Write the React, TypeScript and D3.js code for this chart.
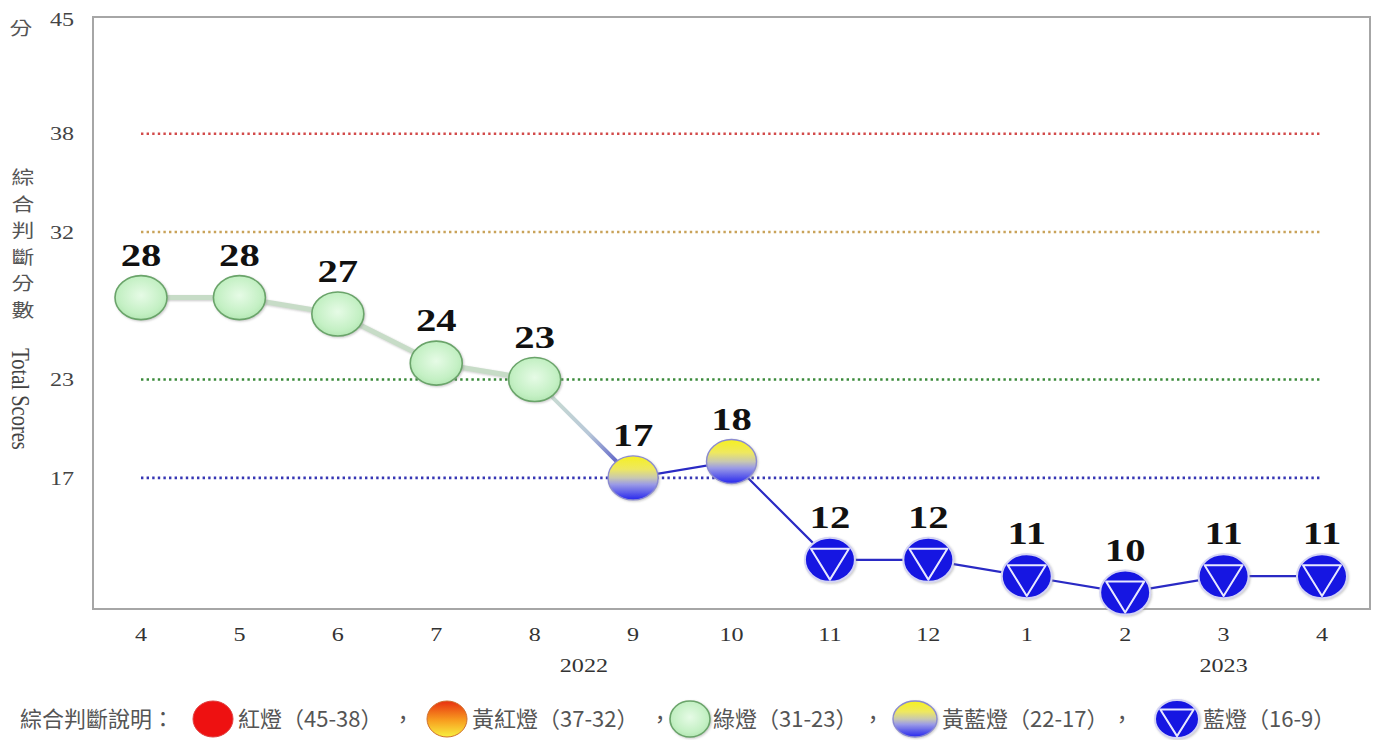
import React from "react";
import * as d3 from "d3";

// monthly composite scores (Apr 2022 – Apr 2023)
const months = ["4", "5", "6", "7", "8", "9", "10", "11", "12", "1", "2", "3", "4"];
const scores = [28, 28, 27, 24, 23, 17, 18, 12, 12, 11, 10, 11, 11];
const yearLabels = [
  { text: "2022", at: 4.5 },
  { text: "2023", at: 11 },
];
const yTicks = [45, 38, 32, 23, 17];
const thresholds = [38, 32, 23, 17];
const thresholdColors = ["#d24a4a", "#c9a35a", "#3b8a3b", "#3636b4"];
const titleChars = ["綜", "合", "判", "斷", "分", "數"];
const legendTitle = "綜合判斷說明：";
const legendItems = [
  { kind: "red", text: "紅燈（45-38）" },
  { kind: "yellowRed", text: "黃紅燈（37-32）" },
  { kind: "green", text: "綠燈（31-23）" },
  { kind: "yellowBlue", text: "黃藍燈（22-17）" },
  { kind: "blue", text: "藍燈（16-9）" },
];
const legendMarkerX = [213, 447, 690, 915, 1177];
const legendTextX = [238, 472, 713, 942, 1203];
const legendCommaX = [403, 660, 873, 1122];

const W = 1381;
const H = 740;
const frame = { left: 93, top: 17, right: 1370, bottom: 609 };
const SX = 1.27; // the source image is stretched horizontally

const x = d3.scaleLinear().domain([0, months.length - 1]).range([141, 1322]);
const y = d3.scaleLinear().domain([9, 45]).range([609, 19]);

const lightOf = (v: number) => {
  if (v >= 38) return "red";
  if (v >= 32) return "yellowRed";
  if (v >= 23) return "green";
  if (v >= 17) return "yellowBlue";
  return "blue";
};

const serif = "'Liberation Serif', 'Times New Roman', serif";
const cjk = "'Noto Sans CJK TC', 'Noto Sans', sans-serif";

function SText({ x, y, rotate = 0, children, ...rest }: any) {
  return (
    <text transform={`translate(${x},${y}) scale(${SX},1)${rotate ? ` rotate(${rotate})` : ""}`} {...rest}>
      {children}
    </text>
  );
}

function Marker({ kind, cx, cy, rx, ry }: { kind: string; cx: number; cy: number; rx: number; ry: number }) {
  if (kind === "green") {
    return <ellipse cx={cx} cy={cy} rx={rx} ry={ry} fill="url(#gGreen)" stroke="#6aa46a" strokeWidth={1.6} filter="url(#soft)" />;
  }
  if (kind === "yellowBlue") {
    return <ellipse cx={cx} cy={cy} rx={rx} ry={ry} fill="url(#gYB)" stroke="#8a8ad0" strokeWidth={1.4} filter="url(#soft)" />;
  }
  if (kind === "red") {
    return <ellipse cx={cx} cy={cy} rx={rx} ry={ry} fill="#ee1111" stroke="#e04040" strokeWidth={1} />;
  }
  if (kind === "yellowRed") {
    return <ellipse cx={cx} cy={cy} rx={rx} ry={ry} fill="url(#gYR)" stroke="#d07030" strokeWidth={1} />;
  }
  // blue
  const ty = cy - ry * 0.5;
  const tx = rx * 0.76;
  return (
    <g filter="url(#soft)">
      <ellipse cx={cx} cy={cy} rx={rx} ry={ry} fill="#1414e2" stroke="#d4d4f4" strokeWidth={2} />
      <path
        d={`M${cx - tx},${ty} L${cx + tx},${ty} L${cx},${cy + ry * 0.9} Z`}
        fill="none"
        stroke="#e8e8ff"
        strokeWidth={2}
        strokeLinejoin="round"
      />
    </g>
  );
}

const markerSize: Record<string, [number, number]> = {
  green: [26, 22],
  yellowBlue: [25, 22],
  blue: [25, 22],
  red: [25, 22],
  yellowRed: [25, 22],
};
const legendSize: Record<string, [number, number]> = {
  red: [20, 18],
  yellowRed: [20, 18],
  green: [20, 18],
  yellowBlue: [22, 18],
  blue: [22, 19],
};

export default function App() {
  const pts: [number, number][] = scores.map((v, i) => [x(i), y(v)]);
  const line = d3.line();
  const greenPts = pts.slice(0, 5);
  const bluePts = pts.slice(5);
  const bridge = pts.slice(4, 6);

  return (
    <svg width={W} height={H} style={{ position: "absolute", left: 0, top: 0, background: "#fff" }}>
      <defs>
        <radialGradient id="gGreen" cx="50%" cy="45%" r="60%">
          <stop offset="0%" stopColor="#e6fbe6" />
          <stop offset="70%" stopColor="#c4f0c4" />
          <stop offset="100%" stopColor="#aee4ae" />
        </radialGradient>
        <linearGradient id="gYB" x1="0" y1="0" x2="0" y2="1">
          <stop offset="0%" stopColor="#f6f020" />
          <stop offset="30%" stopColor="#eee860" />
          <stop offset="50%" stopColor="#c8c8b0" />
          <stop offset="65%" stopColor="#9a9ae6" />
          <stop offset="100%" stopColor="#2626ee" />
        </linearGradient>
        <linearGradient id="gYR" x1="0" y1="0" x2="0" y2="1">
          <stop offset="0%" stopColor="#e83010" />
          <stop offset="55%" stopColor="#f8a020" />
          <stop offset="100%" stopColor="#f8f040" />
        </linearGradient>
        <linearGradient id="gBridge" gradientUnits="userSpaceOnUse" x1={bridge[0][0]} y1={bridge[0][1]} x2={bridge[1][0]} y2={bridge[1][1]}>
          <stop offset="0%" stopColor="#cfe3cf" />
          <stop offset="55%" stopColor="#b8c8d8" />
          <stop offset="100%" stopColor="#3030c0" />
        </linearGradient>
        <filter id="soft" x="-30%" y="-30%" width="160%" height="160%">
          <feDropShadow dx="1" dy="1" stdDeviation="1.2" floodColor="#888" floodOpacity="0.45" />
        </filter>
      </defs>

      {/* plot frame */}
      <rect
        x={frame.left}
        y={frame.top}
        width={frame.right - frame.left}
        height={frame.bottom - frame.top}
        fill="#fff"
        stroke="#a6a6a6"
        strokeWidth={2}
      />

      {/* threshold lines */}
      {thresholds.map((t, i) => (
        <line
          key={t}
          x1={x(0)}
          x2={x(months.length - 1)}
          y1={y(t)}
          y2={y(t)}
          stroke={thresholdColors[i]}
          strokeWidth={2.6}
          strokeDasharray="2.4 3.2"
        />
      ))}

      {/* y ticks */}
      {yTicks.map((t) => (
        <SText key={t} x={62} y={y(t)} dy="0.35em" textAnchor="middle" fontFamily={serif} fontSize={19} fill="#444">
          {t}
        </SText>
      ))}
      <SText x={21} y={29} dy="0.36em" textAnchor="middle" fontFamily={cjk} fontSize={18} fill="#555">
        分
      </SText>
      {titleChars.map((c, i) => (
        <SText key={i} x={23} y={178 + i * 26.5} dy="0.36em" textAnchor="middle" fontFamily={cjk} fontSize={18} fill="#555">
          {c}
        </SText>
      ))}
      <SText x={20} y={399} rotate={90} dy="0.3em" textAnchor="middle" fontFamily={serif} fontSize={20.5} fill="#444">
        Total Scores
      </SText>

      {/* x ticks */}
      {months.map((m, i) => (
        <SText key={i} x={x(i)} y={634} dy="0.35em" textAnchor="middle" fontFamily={serif} fontSize={19} fill="#333">
          {m}
        </SText>
      ))}
      {yearLabels.map((yl) => (
        <SText key={yl.text} x={x(yl.at)} y={665} dy="0.35em" textAnchor="middle" fontFamily={serif} fontSize={19} fill="#333">
          {yl.text}
        </SText>
      ))}

      {/* connecting lines */}
      <path d={line(greenPts) || ""} fill="none" stroke="#c7dcc7" strokeWidth={5} strokeLinecap="round" filter="url(#soft)" />
      <path d={line(bridge) || ""} fill="none" stroke="url(#gBridge)" strokeWidth={4} strokeLinecap="round" />
      <path d={line(bluePts) || ""} fill="none" stroke="#2a2ac4" strokeWidth={2.2} />

      {/* markers */}
      {scores.map((v, i) => {
        const k = lightOf(v);
        return <Marker key={i} kind={k} cx={x(i)} cy={y(v)} rx={markerSize[k][0]} ry={markerSize[k][1]} />;
      })}

      {/* value labels */}
      {scores.map((v, i) => (
        <SText key={i} x={x(i)} y={y(v) - 32} textAnchor="middle" fontFamily={serif} fontWeight="bold" fontSize={32} fill="#111">
          {v}
        </SText>
      ))}

      {/* legend */}
      <text x={20} y={719} dy="0.36em" fontFamily={cjk} fontSize={22} fill="#555">
        {legendTitle}
      </text>
      {legendItems.map((it, i) => (
        <g key={it.kind}>
          <Marker kind={it.kind} cx={legendMarkerX[i]} cy={719} rx={legendSize[it.kind][0]} ry={legendSize[it.kind][1]} />
          <text x={legendTextX[i]} y={719} dy="0.36em" fontFamily={cjk} fontSize={22} fill="#555">
            {it.text}
          </text>
        </g>
      ))}
      {legendCommaX.map((cx, i) => (
        <text key={i} x={cx} y={719} dy="0.36em" textAnchor="middle" fontFamily={cjk} fontSize={22} fill="#555">
          ，
        </text>
      ))}
    </svg>
  );
}
